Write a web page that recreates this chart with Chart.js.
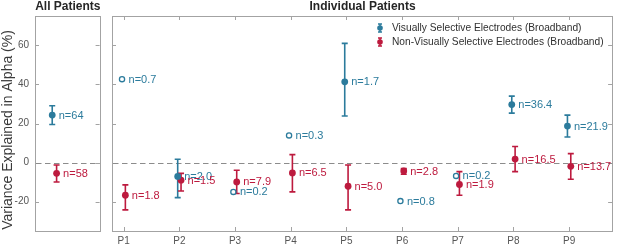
<!DOCTYPE html>
<html>
<head>
<meta charset="utf-8">
<script src="https://cdn.jsdelivr.net/npm/chart.js@4.4.1/dist/chart.umd.min.js"></script>
<style>
    html, body { margin: 0; padding: 0; background: #fff; }
    #wrap { position: relative; width: 617px; height: 245px; overflow: hidden; }
    canvas { position: absolute; top: 0; }
    #all { left: 0; }
    #ind { left: 102px; }
</style>
</head>
<body>
<div id="wrap">
    <canvas id="all" width="104" height="245"></canvas>
    <canvas id="ind" width="515" height="245"></canvas>
</div>
<script>
// tick labels
const yTicks = [-20, 0, 20, 40, 60]
const patients = ['P1', 'P2', 'P3', 'P4', 'P5', 'P6', 'P7', 'P8', 'P9']

// all patients
const allVis = 24.3, allVisLow = 19.5, allVisHigh = 29.1, allVisN = '64'
const allNon = -5.5, allNonLow = -9.9, allNonHigh = -1.2, allNonN = '58'

// individual patients, visually selective
const visVals = [42.7, -7.1, -15.0, 13.9, 41.3, -19.7, -6.8, 29.7, 18.7]
const visLow = [null, -17.9, null, null, 23.8, null, null, 25.3, 13.1]
const visHigh = [null, 1.7, null, null, 61.0, null, null, 34.0, 24.3]
const visN = ['0.7', '2.0', '0.2', '0.3', '1.7', '0.8', '0.2', '36.4', '21.9']
const visOpen = [true, false, true, true, false, true, true, false, false]

// individual patients, non-visually selective
const nonVals = [-16.7, -9.0, -9.9, -5.3, -12.1, -4.3, -11.2, 1.8, -1.9]
const nonLow = [-24.2, -14.5, -15.8, -15.0, -24.2, -6.0, -16.7, -4.6, -8.5]
const nonHigh = [-11.4, -5.5, -3.9, 4.1, -1.2, -3.1, -4.6, 8.2, 4.6]
const nonN = ['1.8', '1.5', '7.9', '6.5', '5.0', '2.8', '1.9', '16.5', '13.7']

const BLUE = '#2b7b9c'
const RED = '#bd1a3e'
const AXIS = '#a3a3a3'
const TEXT = '#555555'
const FONT = "'Liberation Sans', Arial, sans-serif"

function dataset(vals, low, high, ns, open, color, offset) {
    return {
        data: vals.map((v, i) => ({ x: i + 1 + offset, y: v, low: low[i], high: high[i], n: ns[i], open: open ? open[i] : false })),
        pointStyle: 'circle',
        pointRadius: ctx => ctx.raw && ctx.raw.open ? 2.6 : 3.4,
        pointHoverRadius: ctx => ctx.raw && ctx.raw.open ? 2.6 : 3.4,
        pointBorderWidth: ctx => ctx.raw && ctx.raw.open ? 1.3 : 0,
        pointBackgroundColor: ctx => ctx.raw && ctx.raw.open ? '#fff' : color,
        pointBorderColor: color,
        color: color,
        showLine: false
    }
}

function panelPlugin(opts) {
    return {
        id: 'panel',
        beforeDatasetsDraw(chart) {
            const c = chart.ctx
            const a = chart.chartArea
            const y = chart.scales.y
            const x = chart.scales.x
            c.save()
            // box
            c.strokeStyle = AXIS
            c.lineWidth = 1
            c.strokeRect(Math.round(a.left) + 0.5, Math.round(a.top) + 0.5, Math.round(a.right - a.left) - 1, Math.round(a.bottom - a.top))
            // inward ticks
            c.beginPath()
            yTicks.forEach(t => {
                const py = Math.round(y.getPixelForValue(t)) + 0.5
                c.moveTo(a.left, py); c.lineTo(a.left + 4, py)
                c.moveTo(a.right - 1, py); c.lineTo(a.right - 5, py)
            })
            if (opts.xTicks) {
                opts.xTicks.forEach(t => {
                    const px = Math.round(x.getPixelForValue(t)) + 0.5
                    c.moveTo(px, a.top); c.lineTo(px, a.top + 4)
                    c.moveTo(px, a.bottom); c.lineTo(px, a.bottom - 4)
                })
            }
            c.stroke()
            // zero line
            c.strokeStyle = '#8c8c8c'
            c.setLineDash([5.5, 3.5])
            c.beginPath()
            const zy = Math.round(y.getPixelForValue(0)) + 0.5
            c.moveTo(a.left + 1, zy)
            c.lineTo(a.right - 1, zy)
            c.stroke()
            c.setLineDash([])
            // error bars
            chart.data.datasets.forEach(ds => {
                c.strokeStyle = ds.color
                c.lineWidth = 1.6
                ds.data.forEach(p => {
                    if (p.low == null) return
                    const px = x.getPixelForValue(p.x)
                    const lo = y.getPixelForValue(p.low)
                    const hi = y.getPixelForValue(p.high)
                    c.beginPath()
                    c.moveTo(px, lo); c.lineTo(px, hi)
                    c.moveTo(px - 3, lo); c.lineTo(px + 3, lo)
                    c.moveTo(px - 3, hi); c.lineTo(px + 3, hi)
                    c.stroke()
                })
            })
            c.restore()
        },
        afterDatasetsDraw(chart) {
            const c = chart.ctx
            const a = chart.chartArea
            const y = chart.scales.y
            const x = chart.scales.x
            c.save()
            c.font = `11px ${FONT}`
            c.textBaseline = 'middle'
            c.textAlign = 'left'
            chart.data.datasets.forEach(ds => {
                c.fillStyle = ds.color
                ds.data.forEach(p => {
                    c.fillText('n=' + p.n, x.getPixelForValue(p.x) + 6.5, y.getPixelForValue(p.y) + 0.5)
                })
            })
            // panel title
            c.fillStyle = '#262626'
            c.font = `bold 12px ${FONT}`
            c.textAlign = 'center'
            c.fillText(opts.title, (a.left + a.right) / 2, 7)
            // y axis title
            if (opts.yTitle) {
                c.save()
                c.translate(8, 130)
                c.rotate(-Math.PI / 2)
                c.fillStyle = '#3a3a3a'
                c.font = `14px ${FONT}`
                c.fillText(opts.yTitle, 0, 0)
                c.restore()
            }
            // legend
            if (opts.legend) {
                c.font = `10.2px ${FONT}`
                c.textAlign = 'left'
                opts.legend.forEach((item, i) => {
                    const lx = a.left + 268
                    const ly = 28 + i * 14
                    c.strokeStyle = item.color
                    c.fillStyle = item.color
                    c.lineWidth = 1.4
                    c.beginPath()
                    c.moveTo(lx, ly - 4); c.lineTo(lx, ly + 4)
                    c.moveTo(lx - 2, ly - 4); c.lineTo(lx + 2, ly - 4)
                    c.moveTo(lx - 2, ly + 4); c.lineTo(lx + 2, ly + 4)
                    c.stroke()
                    c.beginPath()
                    c.arc(lx, ly, 2.8, 0, Math.PI * 2)
                    c.fill()
                    c.fillStyle = '#303030'
                    c.fillText(item.text, lx + 12, ly + 0.5)
                })
            }
            c.restore()
        }
    }
}

function yScale(showLabels) {
    return {
        type: 'linear',
        min: -35,
        max: 75,
        display: showLabels,
        afterBuildTicks: scale => { scale.ticks = yTicks.map(v => ({ value: v })) },
        afterFit: scale => { if (showLabels) scale.width = 35 },
        grid: { display: false, drawTicks: false },
        border: { display: false },
        ticks: { color: TEXT, font: { family: FONT, size: 10 }, padding: 6 }
    }
}

const common = {
    responsive: false,
    animation: false,
    events: [],
    plugins: { legend: { display: false }, tooltip: { enabled: false } }
}

new Chart(document.getElementById('all'), {
    type: 'scatter',
    data: {
        datasets: [
            dataset([allVis], [allVisLow], [allVisHigh], [allVisN], null, BLUE, -0.04),
            dataset([allNon], [allNonLow], [allNonHigh], [allNonN], null, RED, 0.04)
        ]
    },
    options: {
        ...common,
        layout: { padding: { top: 16, bottom: 14, right: 3, left: 0 } },
        scales: {
            x: { type: 'linear', min: 0.645, max: 1.845, display: false },
            y: yScale(true)
        }
    },
    plugins: [panelPlugin({ title: 'All Patients', yTitle: 'Variance Explained in Alpha (%)' })]
})

new Chart(document.getElementById('ind'), {
    type: 'scatter',
    data: {
        datasets: [
            dataset(visVals, visLow, visHigh, visN, visOpen, BLUE, -0.03),
            dataset(nonVals, nonLow, nonHigh, nonN, null, RED, 0.03)
        ]
    },
    options: {
        ...common,
        layout: { padding: { top: 16, bottom: 0, right: 0, left: 10 } },
        scales: {
            x: {
                type: 'linear',
                min: 0.79,
                max: 9.79,
                afterBuildTicks: scale => { scale.ticks = patients.map((p, i) => ({ value: i + 1 })) },
                afterFit: scale => { scale.height = 14 },
                grid: { display: false, drawTicks: false },
                border: { display: false },
                ticks: {
                    color: TEXT,
                    font: { family: FONT, size: 10 },
                    padding: 4,
                    maxRotation: 0,
                    callback: v => patients[v - 1]
                }
            },
            y: yScale(false)
        }
    },
    plugins: [panelPlugin({
        title: 'Individual Patients',
        xTicks: patients.map((p, i) => i + 1),
        legend: [
            { text: 'Visually Selective Electrodes (Broadband)', color: BLUE },
            { text: 'Non-Visually Selective Electrodes (Broadband)', color: RED }
        ]
    })]
})
</script>
</body>
</html>
